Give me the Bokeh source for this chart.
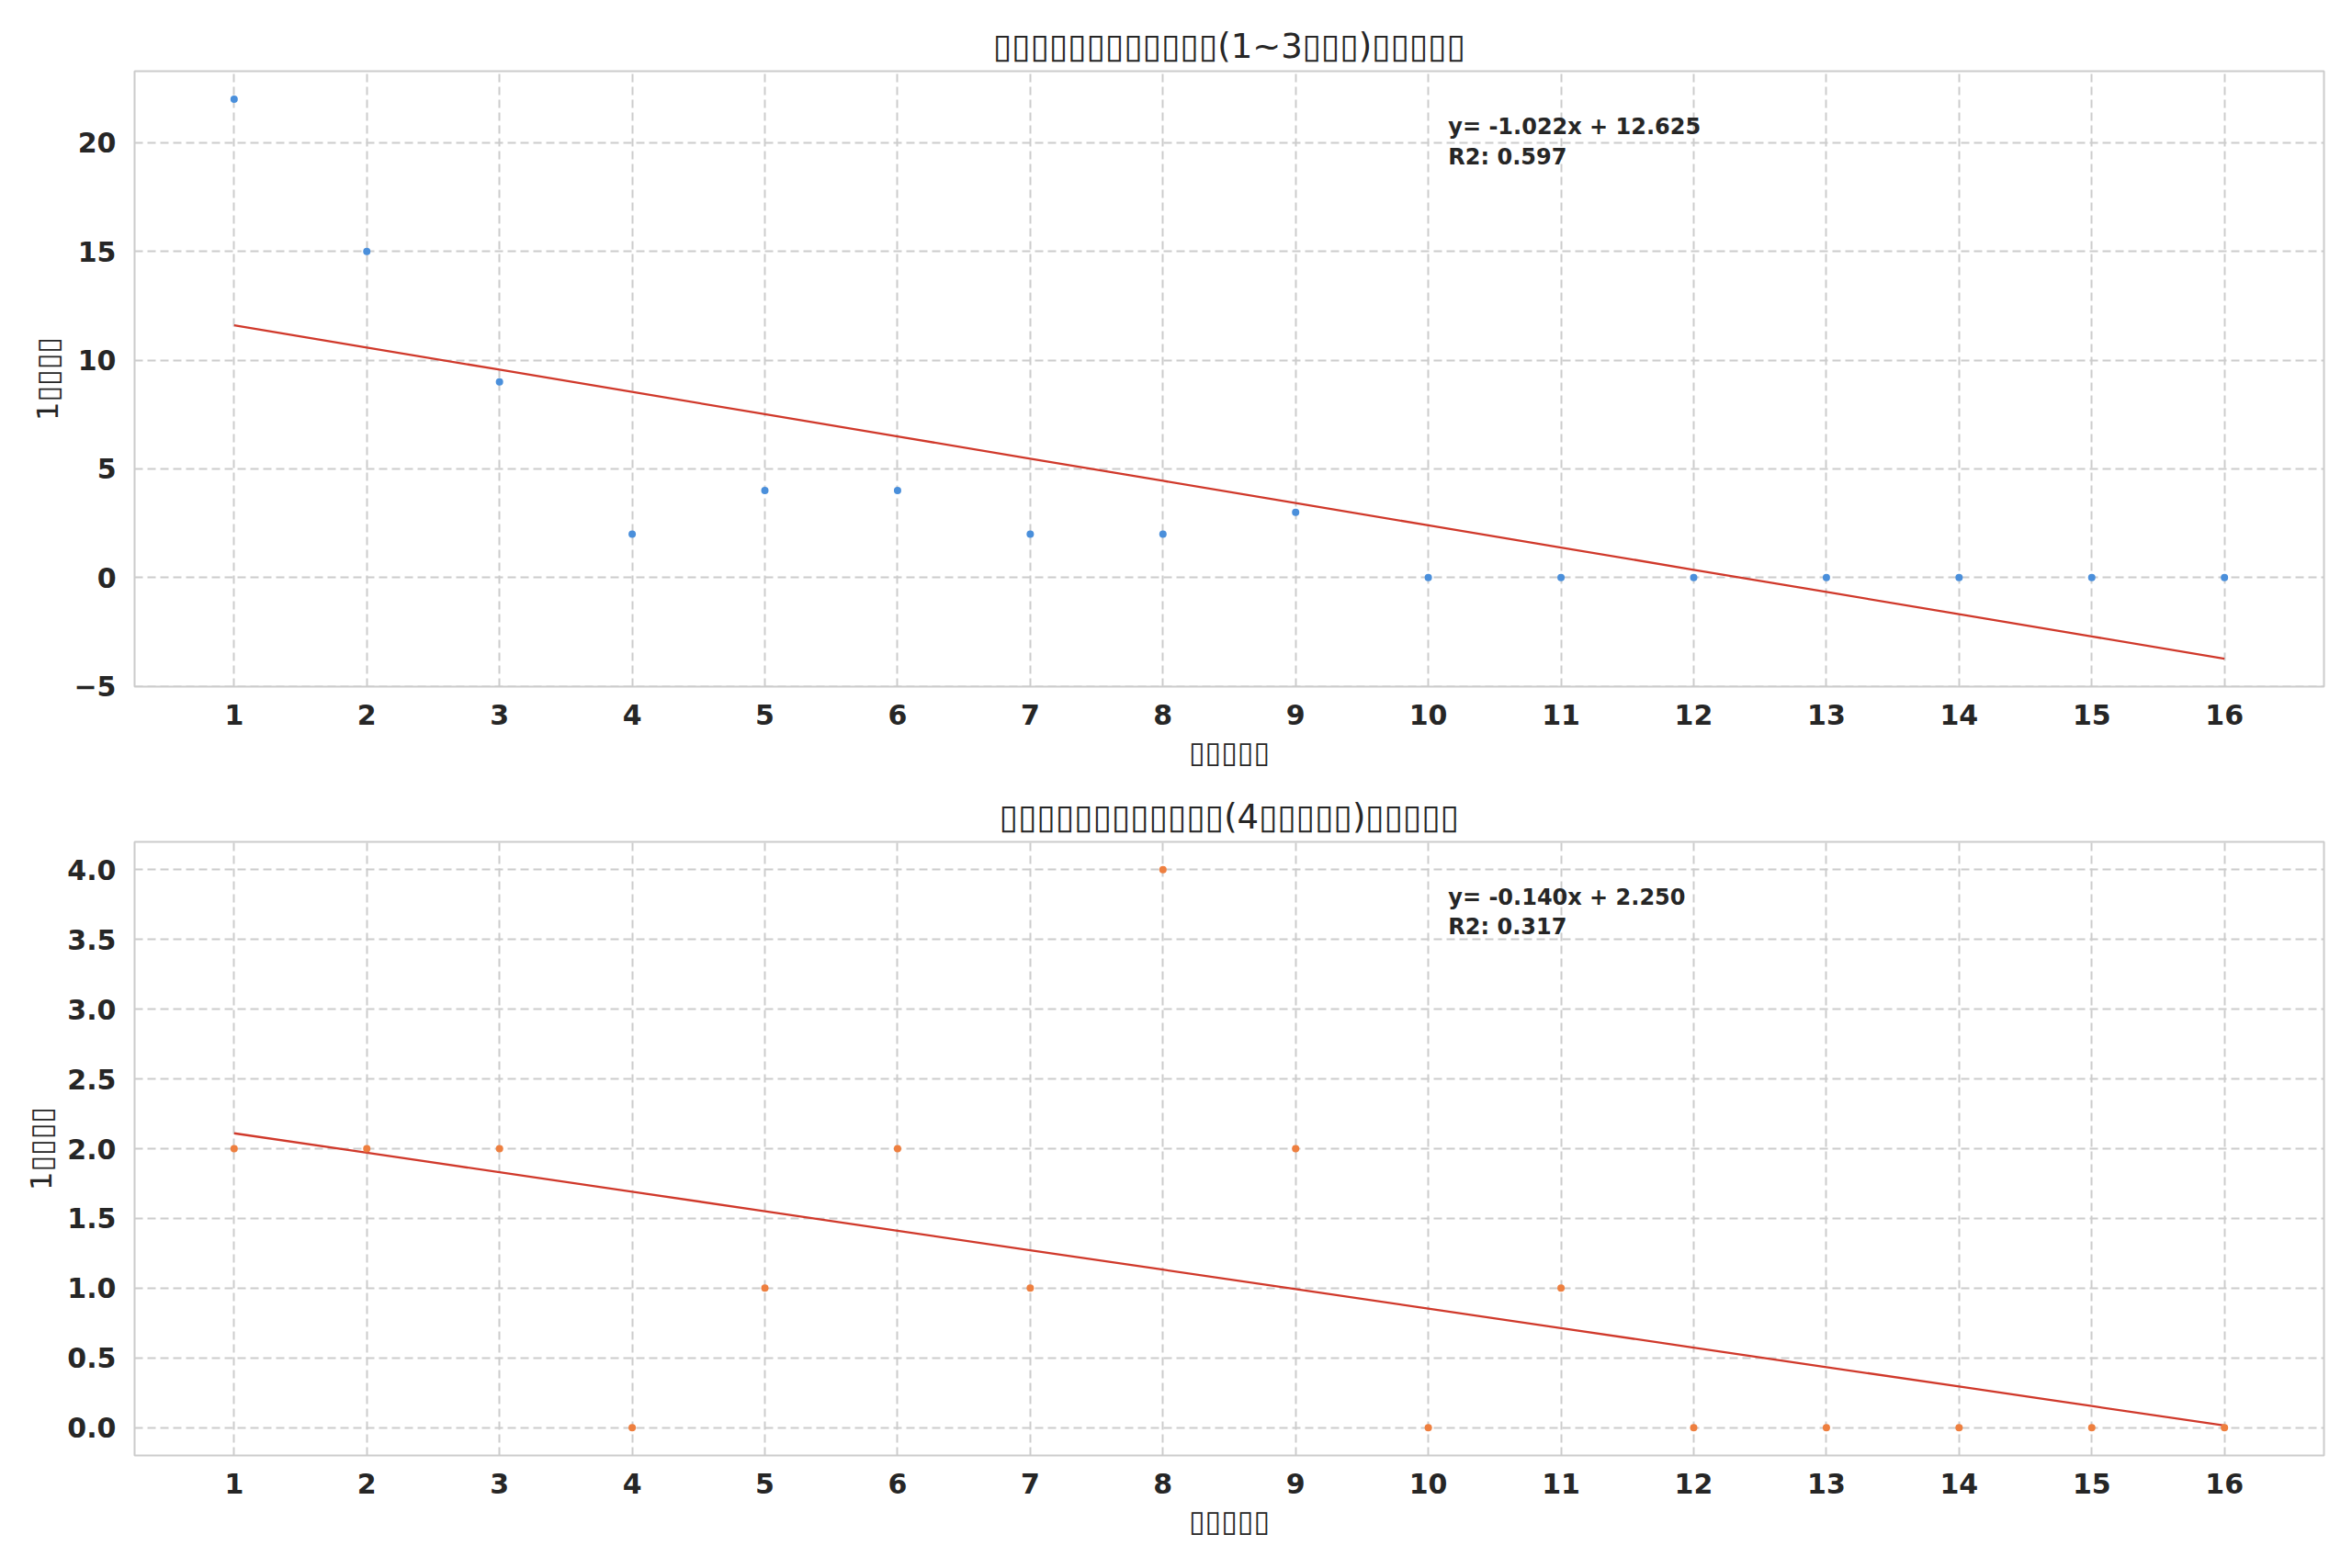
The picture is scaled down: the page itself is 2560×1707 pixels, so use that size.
import numpy as np
from bokeh.plotting import figure
from bokeh.layouts import column
from bokeh.models import Range1d, FixedTicker, Label
from bokeh.embed import file_html
from bokeh.resources import INLINE

# ---------------- data ----------------
x_vals = list(range(1, 17))
top_y = [22, 15, 9, 2, 4, 4, 2, 2, 3, 0, 0, 0, 0, 0, 0, 0]
bottom_y = [2, 2, 2, 0, 1, 2, 1, 4, 2, 0, 1, 0, 0, 0, 0, 0]

title_top = "▯▯▯▯▯▯▯▯▯▯▯▯(1~3▯▯▯)▯▯▯▯▯"
title_bottom = "▯▯▯▯▯▯▯▯▯▯▯▯(4▯▯▯▯▯)▯▯▯▯▯"
x_label = "▯▯▯▯▯"
y_label = "1▯▯▯▯"

top_yticks = [-5, 0, 5, 10, 15, 20]
top_ytick_labels = ["−5", "0", "5", "10", "15", "20"]
bottom_yticks = [0.0, 0.5, 1.0, 1.5, 2.0, 2.5, 3.0, 3.5, 4.0]
bottom_ytick_labels = ["0.0", "0.5", "1.0", "1.5", "2.0", "2.5", "3.0", "3.5", "4.0"]

BLUE = "#4a8fdb"
ORANGE = "#ee7f3f"
RED = "#d0392b"
TXT = "#262626"
GRID = "#cccccc"
FONT = "DejaVu Sans"

W = 2544


def make_panel(ys, color, title, yticks, ytick_labels, height, top, bottom):
    xs = np.array(x_vals, dtype=float)
    ya = np.array(ys, dtype=float)
    slope, intercept = np.polyfit(xs, ya, 1)
    fit = slope * xs + intercept
    ss_res = np.sum((ya - fit) ** 2)
    ss_tot = np.sum((ya - ya.mean()) ** 2)
    r2 = 1 - ss_res / ss_tot

    x0, x1 = xs.min(), xs.max()
    xpad = 0.05 * (x1 - x0)
    lo = min(ya.min(), fit.min())
    hi = max(ya.max(), fit.max())
    ypad = 0.05 * (hi - lo)
    xr = Range1d(x0 - xpad, x1 + xpad)
    yr = Range1d(lo - ypad, hi + ypad)

    p = figure(width=W, height=height, x_range=xr, y_range=yr,
               output_backend="svg", toolbar_location=None,
               min_border_left=146, min_border_right=15,
               min_border_top=top, min_border_bottom=bottom)
    p.title.text = title
    p.title.align = "center"
    p.title.text_font = FONT
    p.title.text_font_size = "37px"
    p.title.text_font_style = "normal"
    p.title.text_color = TXT
    p.title.standoff = 12

    p.outline_line_color = GRID
    p.outline_line_width = 2
    p.background_fill_color = "white"
    p.border_fill_color = "white"

    for ax in (p.xaxis, p.yaxis):
        ax.axis_line_color = None
        ax.major_tick_line_color = None
        ax.minor_tick_line_color = None
        ax.major_tick_out = 0
        ax.major_tick_in = 0
        ax.major_label_text_font = FONT
        ax.major_label_text_font_size = "30px"
        ax.major_label_text_font_style = "bold"
        ax.major_label_text_color = TXT
        ax.axis_label_text_font = FONT
        ax.axis_label_text_font_size = "32px"
        ax.axis_label_text_font_style = "normal"
        ax.axis_label_text_color = TXT

    p.xaxis.ticker = FixedTicker(ticks=x_vals)
    p.xaxis.major_label_standoff = 19
    p.xaxis.axis_label = x_label
    p.xaxis.axis_label_standoff = 8

    p.yaxis.ticker = FixedTicker(ticks=yticks)
    p.yaxis.major_label_overrides = {t: s for t, s in zip(yticks, ytick_labels)}
    p.yaxis.major_label_standoff = 20
    p.yaxis.axis_label = y_label
    p.yaxis.axis_label_standoff = 6

    for g in (p.xgrid, p.ygrid):
        g.grid_line_color = GRID
        g.grid_line_width = 2
        g.grid_line_dash = "9 5"

    p.line(xs, fit, line_color=RED, line_width=2.3)
    p.scatter(xs, ya, size=8, fill_color=color, line_color=None)

    lx = xr.start + 0.6 * (xr.end - xr.start)
    ly1 = yr.start + 0.930 * (yr.end - yr.start)
    ly2 = yr.start + 0.882 * (yr.end - yr.start)
    for txt, ly in ((f"y= {slope:.3f}x + {intercept:.3f}", ly1), (f"R2: {r2:.3f}", ly2)):
        p.add_layout(Label(x=lx, y=ly, text=txt, text_font=FONT,
                           text_font_size="24px", text_font_style="bold",
                           text_color=TXT, text_baseline="top", text_align="left"))
    return p


p1 = make_panel(top_y, BLUE, title_top, top_yticks, top_ytick_labels, 850, 77, 103)
p2 = make_panel(bottom_y, ORANGE, title_bottom, bottom_yticks, bottom_ytick_labels, 849, 66, 115)

layout = column(p1, p2)
open("out.html", "w").write(file_html(layout, INLINE))
